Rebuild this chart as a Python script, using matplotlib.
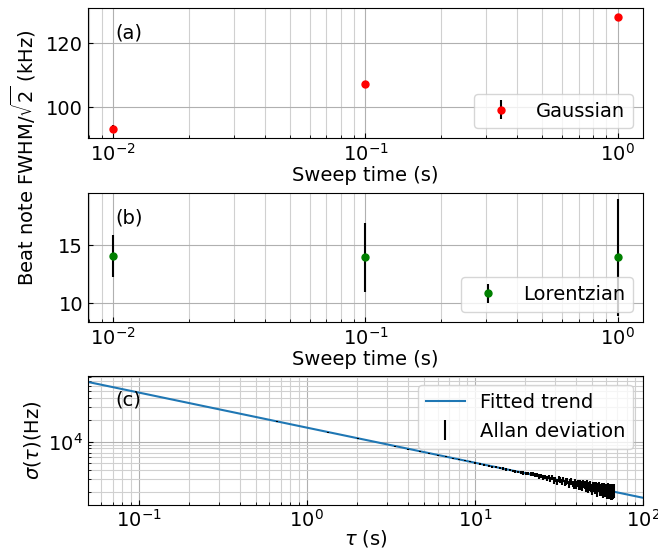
import numpy as np
import matplotlib
matplotlib.use("Agg")
import matplotlib.pyplot as plt

plt.rcParams['font.size'] = 14

# panel (a) / (b): sweep time scans
sweep_time = [0.01, 0.1, 1.0]
gauss_fwhm = [93.4, 107.2, 128.1]
gauss_err = [1.1, 1.1, 1.1]
lorentz_fwhm = [14.07, 13.97, 13.97]
lorentz_err = [1.8, 3.0, 5.05]

# panel (c): Allan deviation
adev_tau = [0.67, 1.34, 2.01, 2.68, 3.35, 4.02, 4.69, 5.36, 6.03, 6.7,
            7.37, 8.04, 8.71, 9.38, 10.05, 10.72, 11.39, 12.06, 12.73, 13.4,
            14.07, 14.74, 15.41, 16.08, 16.75, 17.42, 18.09, 18.76, 19.43, 20.1,
            20.77, 21.44, 22.11, 22.78, 23.45, 24.12, 24.79, 25.46, 26.13, 26.8,
            27.47, 28.14, 28.81, 29.48, 30.15, 30.82, 31.49, 32.16, 32.83, 33.5,
            34.17, 34.84, 35.51, 36.18, 36.85, 37.52, 38.19, 38.86, 39.53, 40.2,
            40.87, 41.54, 42.21, 42.88, 43.55, 44.22, 44.89, 45.56, 46.23, 46.9,
            47.57, 48.24, 48.91, 49.58, 50.25, 50.92, 51.59, 52.26, 52.93, 53.6,
            54.27, 54.94, 55.61, 56.28, 56.95, 57.62, 58.29, 58.96, 59.63, 60.3,
            60.97, 61.64, 62.31, 62.98, 63.65, 64.32, 64.99, 65.66, 66.33, 67.0]
adev_sigma = [18900, 13450, 11000, 9560, 8580, 7850, 7300, 6820, 6450, 6110,
              5850, 5600, 5390, 5220, 5000, 4880, 4700, 4610, 4450, 4370,
              4240, 4200, 4060, 4010, 3880, 3840, 3760, 3700, 3640, 3560,
              3600, 3560, 3520, 3420, 3400, 3260, 3300, 3150, 3200, 3060,
              3179, 2989, 3166, 2862, 2978, 2742, 3002, 2914, 2743, 2968,
              2634, 2774, 2830, 2507, 2725, 2781, 2547, 2448, 2763, 2510,
              2616, 2394, 2650, 2456, 2290, 2542, 2475, 2313, 2582, 2232,
              2382, 2459, 2256, 2126, 2434, 2327, 2153, 2410, 2193, 2091,
              2298, 2373, 2097, 2149, 2289, 1997, 2198, 2228, 2005, 2141,
              1921, 2202, 2087, 1973, 2188, 1973, 1903, 2115, 1964, 2074]
adev_err = [150, 130, 120, 110, 110, 110, 110, 110, 110, 110,
            110, 110, 120, 120, 120, 130, 130, 140, 140, 150,
            150, 160, 160, 170, 170, 180, 180, 190, 190, 200,
            200, 210, 210, 220, 220, 220, 230, 230, 230, 240,
            220, 260, 240, 290, 230, 270, 250, 310, 240, 280,
            260, 320, 250, 290, 270, 330, 260, 300, 280, 340,
            270, 310, 290, 350, 280, 320, 300, 360, 290, 330,
            310, 370, 300, 340, 320, 380, 310, 350, 330, 390,
            320, 360, 340, 400, 330, 370, 350, 410, 340, 380,
            360, 420, 350, 390, 370, 430, 360, 400, 380, 440]

# fitted power-law trend (straight line on log-log)
trend_tau = [0.05, 100]
trend_sigma = [67900, 1640]

fig = plt.figure(figsize=(6.58, 5.5), dpi=100)
ax1 = fig.add_axes([0.1337, 0.749, 0.8435, 0.2365])
ax2 = fig.add_axes([0.1337, 0.415, 0.8435, 0.234])
ax3 = fig.add_axes([0.1337, 0.0818, 0.8435, 0.2351])

ax1.errorbar(sweep_time, gauss_fwhm, yerr=gauss_err, fmt='o', color='red',
             ecolor='black', markersize=5, label='Gaussian')
ax2.errorbar(sweep_time, lorentz_fwhm, yerr=lorentz_err, fmt='o', color='green',
             ecolor='black', markersize=5, label='Lorentzian')

for ax in (ax1, ax2):
    ax.set_xscale('log')
    ax.set_xlabel('Sweep time (s)', labelpad=1)
    ax.legend(loc='lower right')
ax1.set_yticks([100, 120])
ax2.set_yticks([10, 15])

ax3.plot(trend_tau, trend_sigma, color='#1f77b4', label='Fitted trend')
ax3.errorbar(adev_tau, adev_sigma, yerr=adev_err, fmt='none', ecolor='black',
             label='Allan deviation')
ax3.set_xscale('log')
ax3.set_yscale('log')
ax3.set_xlim(0.05, 100)
ax3.set_ylim(1300, 83000)
ax3.set_xlabel(r'$\tau$ (s)', labelpad=-2)
ax3.set_ylabel(r'$\sigma(\tau)$(Hz)')
ax3.legend(loc='upper right')

for ax, tag in zip((ax1, ax2, ax3), ('(a)', '(b)', '(c)')):
    ax.text(0.05, 0.81, tag, transform=ax.transAxes, va='center')
    ax.grid(True, which='major', color='#b0b0b0')
    ax.grid(True, which='minor', color='#d0d0d0')
    ax.tick_params(which='both', direction='in')
ax3.tick_params(axis='x', pad=2.5)

fig.text(0.035, 0.714, r'Beat note FWHM/$\sqrt{2}$ (kHz)', rotation=90,
         ha='center', va='center')

fig.savefig('out.png', dpi=100)
